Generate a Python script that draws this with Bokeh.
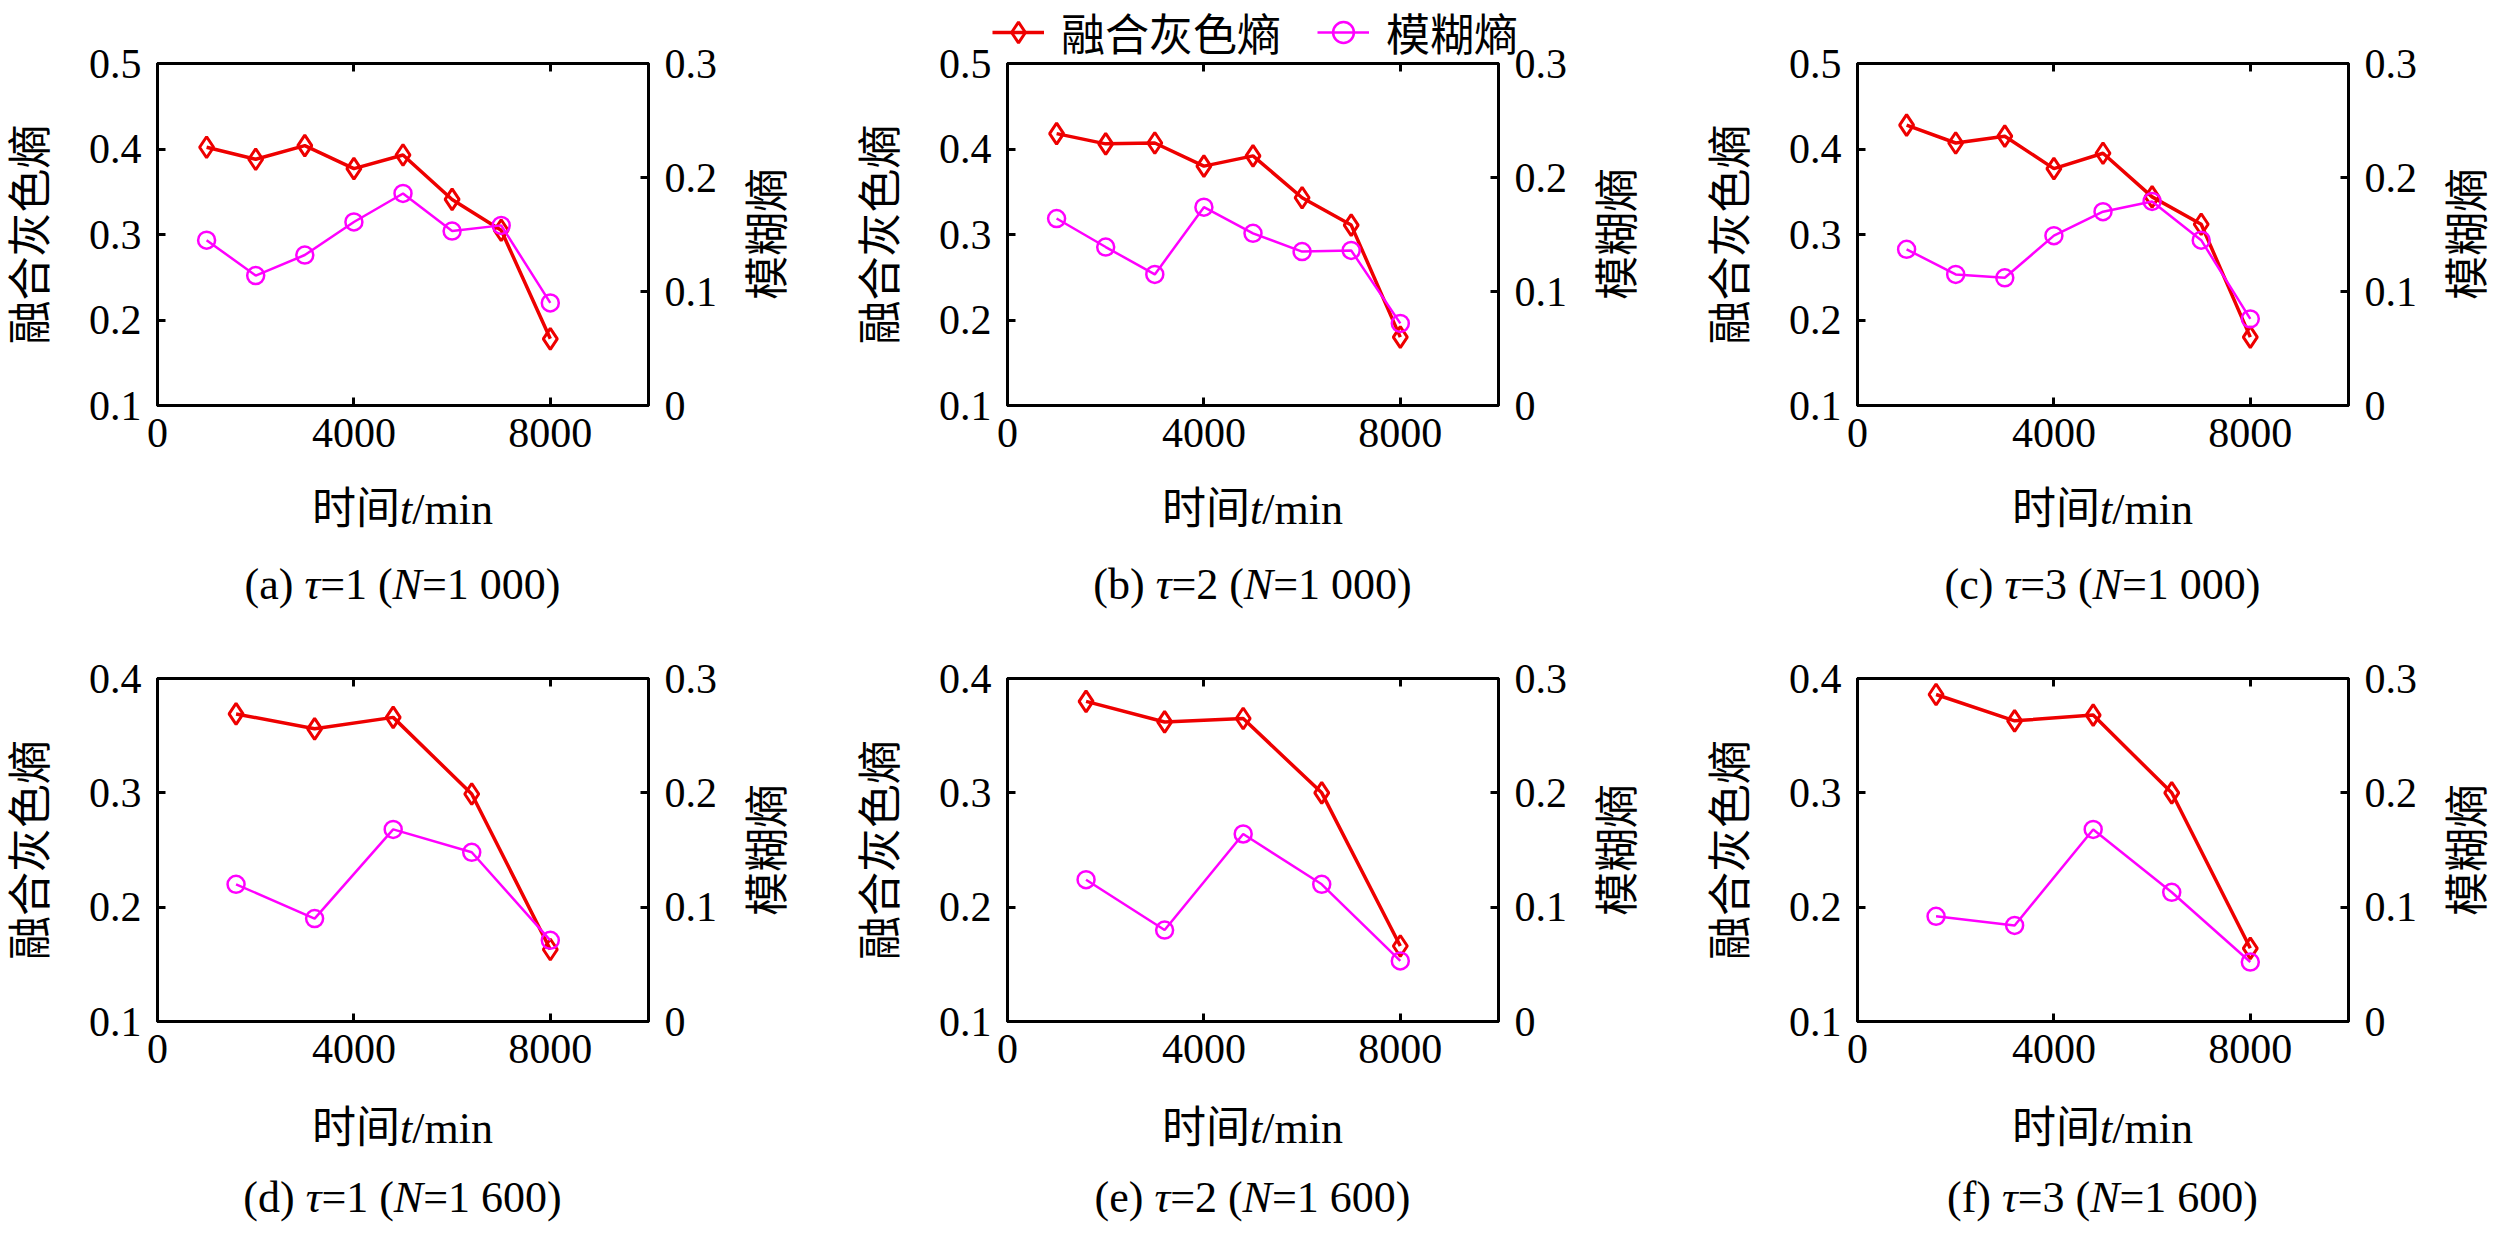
from bokeh.plotting import figure
from bokeh.models import Range1d, LinearAxis, FixedTicker, Legend, LegendItem, Div
from bokeh.layouts import column, row
from bokeh.embed import file_html
from bokeh.resources import INLINE

# ---------------- data ----------------
time_n1000 = [1000, 2000, 3000, 4000, 5000, 6000, 7000, 8000]
time_n1600 = [1600, 3200, 4800, 6400, 8000]

fge_a = [0.402, 0.388, 0.404, 0.377, 0.393, 0.341, 0.305, 0.178]
fe_a = [0.145, 0.114, 0.132, 0.161, 0.186, 0.153, 0.158, 0.090]
fge_b = [0.418, 0.406, 0.407, 0.380, 0.392, 0.343, 0.311, 0.180]
fe_b = [0.164, 0.139, 0.115, 0.174, 0.151, 0.135, 0.136, 0.072]
fge_c = [0.428, 0.407, 0.415, 0.377, 0.395, 0.344, 0.312, 0.180]
fe_c = [0.137, 0.115, 0.112, 0.149, 0.170, 0.179, 0.145, 0.076]

fge_d = [0.369, 0.356, 0.366, 0.299, 0.163]
fe_d = [0.120, 0.090, 0.168, 0.148, 0.071]
fge_e = [0.380, 0.362, 0.365, 0.300, 0.166]
fe_e = [0.124, 0.080, 0.164, 0.120, 0.053]
fge_f = [0.386, 0.363, 0.368, 0.300, 0.164]
fe_f = [0.092, 0.084, 0.168, 0.113, 0.052]

panel_letters = ["a", "b", "c", "d", "e", "f"]
panel_taus = ["1", "2", "3", "1", "2", "3"]
panel_ns = ["1 000", "1 000", "1 000", "1 600", "1 600", "1 600"]

x_ticks = [0, 4000, 8000]
left_ticks_top = [0.1, 0.2, 0.3, 0.4, 0.5]
left_ticks_bottom = [0.1, 0.2, 0.3, 0.4]
right_ticks = [0, 0.1, 0.2, 0.3]

series1_name = "融合灰色熵"
series2_name = "模糊熵"
x_label_html = "时间<i>t</i>/min"

# ---------------- style ----------------
FONT = "Liberation Serif, Noto Sans CJK SC"
CSS_FONT = "'Liberation Serif', 'Noto Sans CJK SC', serif"
FS = 42
FS_LBL = 44
RED = "#ee0000"
MAG = "#ff00ff"
FRAME_L = 157
FRAME_W = 491
FIG_RB = 90
FIG_W = FRAME_L + FRAME_W + FIG_RB
LEG_H = 64


def style_axis(ax, label_standoff):
    ax.axis_line_width = 3
    ax.axis_line_color = "black"
    ax.major_tick_line_width = 3
    ax.major_tick_line_color = "black"
    ax.major_tick_in = 8
    ax.major_tick_out = 0
    ax.minor_tick_line_color = None
    ax.major_label_text_font = FONT
    ax.major_label_text_font_size = f"{FS}px"
    ax.major_label_text_color = "black"
    ax.major_label_standoff = label_standoff
    ax.axis_label_text_font = FONT
    ax.axis_label_text_font_size = f"{FS_LBL}px"
    ax.axis_label_text_font_style = "normal"
    ax.axis_label_text_color = "black"


def add_series(p, t, fge, fe):
    r1l = p.line(t, fge, line_color=RED, line_width=3.5)
    r1s = p.scatter(t, fge, marker="diamond", size=21, line_color=RED, fill_color=None, line_width=3)
    r2l = p.line(t, fe, line_color=MAG, line_width=2.5, y_range_name="r")
    r2s = p.scatter(t, fe, marker="circle", size=17, line_color=MAG, fill_color=None, line_width=2.5,
                    y_range_name="r")
    return r1l, r1s, r2l, r2s


def make_panel(t, fge, fe, ymax, lticks, height, frame_h):
    p = figure(width=FIG_W, height=height, x_range=Range1d(0, 10000), y_range=Range1d(0.1, ymax),
               output_backend="svg", toolbar_location=None,
               min_border_left=FRAME_L, min_border_right=FIG_RB,
               min_border_top=63, min_border_bottom=height - 63 - frame_h,
               y_axis_label=series1_name)
    p.extra_y_ranges = {"r": Range1d(0, 0.3)}
    p.xgrid.visible = False
    p.ygrid.visible = False
    p.outline_line_color = "black"
    p.outline_line_width = 3
    p.background_fill_color = "white"
    p.border_fill_color = None

    p.xaxis[0].ticker = FixedTicker(ticks=x_ticks)
    style_axis(p.xaxis[0], 13)
    p.yaxis[0].ticker = FixedTicker(ticks=lticks)
    style_axis(p.yaxis[0], 16)
    p.yaxis[0].axis_label_standoff = 30

    ax_r = LinearAxis(y_range_name="r", ticker=FixedTicker(ticks=right_ticks),
                      major_label_overrides={0: "0"})
    style_axis(ax_r, 16)
    p.add_layout(ax_r, "right")

    ax_t = LinearAxis(ticker=FixedTicker(ticks=x_ticks))
    style_axis(ax_t, 0)
    ax_t.major_label_text_font_size = "0px"
    ax_t.major_label_text_color = None
    p.add_layout(ax_t, "above")

    add_series(p, t, fge, fe)
    return p


def right_label_div(width, height, cy):
    html = (
        '<div style="position:relative;width:%dpx;height:%dpx;font-family:%s;font-size:%dpx;color:#000;">'
        '<div style="position:absolute;left:%dpx;top:%.1fpx;transform:translate(-50%%,-50%%) rotate(-90deg);'
        'white-space:nowrap;line-height:1;">%s</div></div>'
        % (width, height, CSS_FONT, FS_LBL, 31, cy, series2_name)
    )
    return Div(text=html, width=width, height=height, margin=0)


def caption_div(idx, width, height, label_y, caption_y):
    cx = FRAME_L + FRAME_W / 2.0
    cap = "(%s) <i>&tau;</i>=%s (<i>N</i>=%s)" % (panel_letters[idx], panel_taus[idx], panel_ns[idx])
    item = ("position:absolute;left:%.1fpx;top:%spx;transform:translate(-50%%,-50%%);"
            "white-space:nowrap;line-height:1;")
    html = (
        '<div style="position:relative;width:%dpx;height:%dpx;font-family:%s;font-size:%dpx;color:#000;">'
        % (width, height, CSS_FONT, FS_LBL)
        + '<div style="%s">%s</div>' % (item % (cx, label_y), x_label_html)
        + '<div style="%s">%s</div>' % (item % (cx, caption_y), cap)
        + "</div>"
    )
    return Div(text=html, width=width, height=height, margin=0)


# legend strip (sits under the top row; its series lie outside its own ranges)
lp = figure(width=2500, height=LEG_H, x_range=Range1d(-2, -1), y_range=Range1d(-2, -1),
            output_backend="svg", toolbar_location=None, min_border=0,
            x_axis_location=None, y_axis_location=None, margin=(0, 0, -LEG_H, 0))
lp.extra_y_ranges = {"r": Range1d(-2, -1)}
lp.xgrid.visible = False
lp.ygrid.visible = False
lp.outline_line_color = None
lp.background_fill_color = None
lp.border_fill_color = None
l1l, l1s, l2l, l2s = add_series(lp, time_n1000, fge_b, fe_b)
lg = Legend(items=[LegendItem(label=series1_name, renderers=[l1l, l1s]),
                   LegendItem(label=series2_name, renderers=[l2l, l2s])],
            orientation="horizontal", location=(992, 0),
            label_text_font=FONT, label_text_font_size=f"{FS_LBL}px", label_text_color="black",
            glyph_width=52, glyph_height=LEG_H, label_height=LEG_H, label_standoff=17,
            spacing=36, padding=0, margin=0,
            border_line_alpha=0, background_fill_alpha=0)
lp.add_layout(lg, "center")

unit_w = [850, 850, 800]
TOP_H, TOP_FRAME = 467, 342
BOT_H, BOT_FRAME = 468, 343

pa = make_panel(time_n1000, fge_a, fe_a, 0.5, left_ticks_top, TOP_H, TOP_FRAME)
pb = make_panel(time_n1000, fge_b, fe_b, 0.5, left_ticks_top, TOP_H, TOP_FRAME)
pc = make_panel(time_n1000, fge_c, fe_c, 0.5, left_ticks_top, TOP_H, TOP_FRAME)
pd = make_panel(time_n1600, fge_d, fe_d, 0.4, left_ticks_bottom, BOT_H, BOT_FRAME)
pe = make_panel(time_n1600, fge_e, fe_e, 0.4, left_ticks_bottom, BOT_H, BOT_FRAME)
pf = make_panel(time_n1600, fge_f, fe_f, 0.4, left_ticks_bottom, BOT_H, BOT_FRAME)

top_figs = [pa, pb, pc]
bot_figs = [pd, pe, pf]

top_units = []
bot_units = []
for i in range(3):
    top_units.append(column(
        row(top_figs[i], right_label_div(unit_w[i] - FIG_W, TOP_H, 63 + TOP_FRAME / 2.0)),
        caption_div(i, unit_w[i], 148, 43, 118)))
    bot_units.append(column(
        row(bot_figs[i], right_label_div(unit_w[i] - FIG_W, BOT_H, 63 + BOT_FRAME / 2.0)),
        caption_div(i + 3, unit_w[i], 136, 46, 115)))

layout = column(lp, row(*top_units), row(*bot_units))
open("out.html", "w").write(file_html(layout, INLINE))
